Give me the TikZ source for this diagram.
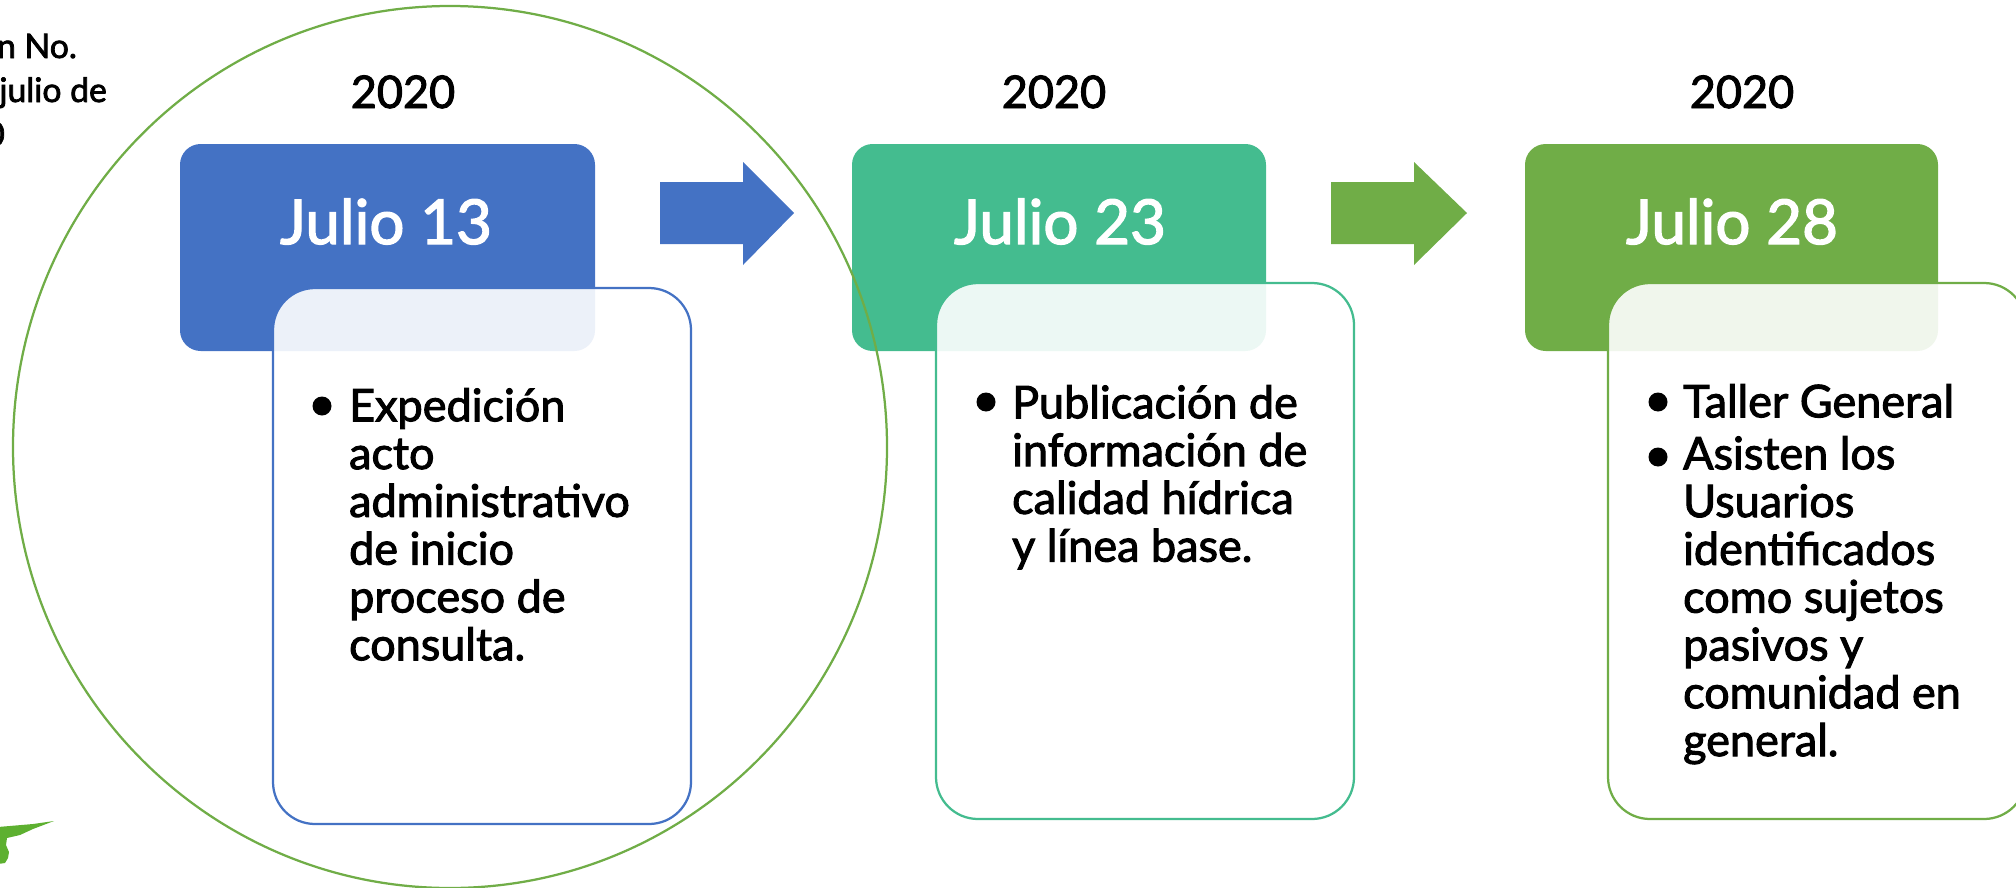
\documentclass[tikz,border=0pt]{standalone}
\usepackage{fontspec}
\setmainfont{Lato}
\newfontfamily\mfont{Lato}[FakeBold=2.2]
\definecolor{cblue}{HTML}{4472C4}
\definecolor{cteal}{HTML}{44BC8F}
\definecolor{cgreen}{HTML}{70AD47}
\definecolor{clogo}{HTML}{5DB030}
\tikzset{
  x=0.05cm,y=-0.05cm,
  headbox/.style={rounded corners=1.035cm},
  headtxt/.style={font=\mfont\fontsize{88}{88}\selectfont,text=white,anchor=base,inner sep=0},
  yeartxt/.style={font=\mfont\fontsize{64}{64}\selectfont,anchor=base,inner sep=0},
  cardbox/.style={line width=3.2pt,rounded corners=2.1cm,fill=white,fill opacity=0.9},
  bodytxt/.style={font=\mfont\fontsize{64}{68}\selectfont,anchor=north west,inner sep=0,align=left},
  sidetxt/.style={font=\mfont\fontsize{48}{48}\selectfont,anchor=base east,inner sep=0},
  dotb/.style={circle,fill=black,inner sep=0,minimum size=0.95cm},
}
\begin{document}
\begin{tikzpicture}
\useasboundingbox (0,0) rectangle (2016,888);
\clip (0,0) rectangle (2016,888);
% left text
\node[sidetxt] (l1) at (77,58) {n No.};
\node[sidetxt] (l2) at (107,102) {julio de};
\node[sidetxt] (l3) at (5,146) {0};
% logo
\fill[clogo] (-2,827) -- (33,824) -- (54,821) -- (33,829) -- (20,835) -- (7,838) -- (6,845) -- (9,852) -- (8,858) -- (5,863) -- (-2,864) -- cycle;
% box 1
\fill[cblue,headbox] (180,144) rectangle (595,351);
\node[headtxt] (h1) at (386,244) {Julio 13};
\node[yeartxt] (y1) at (403,108) {2020};
\draw[cblue,cardbox] (273,288) rectangle (691,824);
\node[dotb] (d1) at (322,406) {};
\node[bodytxt] (b1) at (349,388) {Expedición\\acto\\administrativo\\de inicio\\proceso de\\consulta.};
\fill[cblue] (660,182) -- (743,182) -- (743,162) -- (794,213) -- (743,265) -- (743,244) -- (660,244) -- cycle;
% box 2
\fill[cteal,headbox] (852,144) rectangle (1266,351);
\node[headtxt] (h2) at (1060,244) {Julio 23};
\node[yeartxt] (y2) at (1054,108) {2020};
\draw[cteal,cardbox] (936,283) rectangle (1354,819);
\node[dotb] (d2) at (986,402) {};
\node[bodytxt] (b2) at (1012,385) {Publicación de\\información de\\calidad hídrica\\y línea base.};
\fill[cgreen] (1331,182) -- (1414,182) -- (1414,162) -- (1467,213) -- (1414,265) -- (1414,244) -- (1331,244) -- cycle;
% box 3
\fill[cgreen,headbox] (1525,144) rectangle (1938,351);
\node[headtxt] (h3) at (1732,244) {Julio 28};
\node[yeartxt] (y3) at (1742,108) {2020};
\draw[cgreen,cardbox] (1608,283) rectangle (2026,819);
\node[dotb] (d3) at (1658,402) {};
\node[dotb] (d4) at (1658,457) {};
\node[bodytxt] (b3) at (1683,384) {Taller General};
\node[bodytxt] (b4) at (1683,436) {Asisten los\\Usuarios\\identificados\\como sujetos\\pasivos y\\comunidad en\\general.};
% circle
\draw[cgreen,line width=3.2pt] (450,447) ellipse [x radius=437,y radius=441];
\end{tikzpicture}
\end{document}
